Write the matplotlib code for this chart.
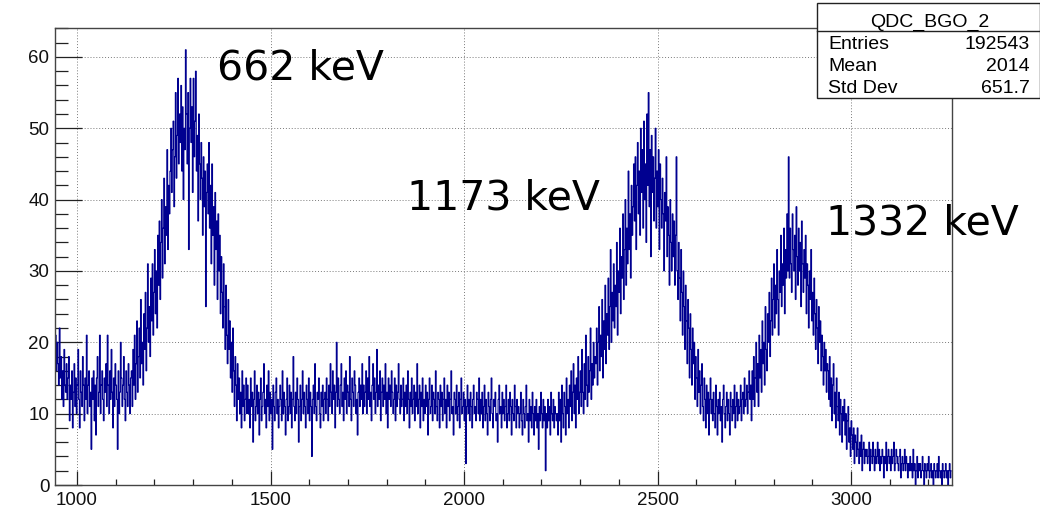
import numpy as np
import matplotlib
matplotlib.use("Agg")
import matplotlib.pyplot as plt
from matplotlib.patches import Rectangle
from matplotlib.lines import Line2D
from matplotlib.ticker import MultipleLocator

# QDC spectrum of the BGO detector, channels binned in pairs
BIN_START = 940
BIN_WIDTH = 2

# 940 - 1440: low-energy continuum and the 662 keV photopeak
counts_cs137 = [
    23, 19, 21, 16, 20, 17, 14, 22, 15, 18, 12, 16, 11, 19, 14, 13, 17, 12, 15, 18,
    9, 14, 12, 16, 8, 13, 17, 11, 15, 10, 14, 19, 12, 8, 16, 13, 11, 18, 14, 9,
    15, 12, 21, 10, 14, 16, 11, 13, 5, 15,
    12, 16, 9, 14, 7, 15, 18, 11, 13, 21, 10, 14, 16, 12, 9, 15, 13, 17, 11, 21,
    14, 10, 16, 12, 19, 13, 8, 15, 11, 17, 14, 12, 5, 16, 10, 13, 20, 15, 11, 14,
    18, 12, 9, 16, 13, 11, 17, 14, 10, 15,
    16, 11, 19, 14, 21, 12, 17, 23, 13, 18, 22, 15, 26, 17, 20, 14, 24, 19, 27, 16,
    22, 31, 20, 25, 18, 29, 23, 31, 21, 27, 33, 24, 30, 22, 35, 28, 37, 26, 34, 40,
    29, 36, 43, 31, 39, 35, 47, 33, 42, 38,
    44, 50, 41, 47, 51, 39, 46, 55, 43, 49, 57, 45, 52, 48, 56, 44, 53, 40, 50, 47,
    61, 52, 45, 55, 33, 50, 57, 48, 53, 41, 57, 46, 51, 58, 44, 49, 37, 52, 45, 40,
    48, 43, 35, 46, 39, 44, 25, 41, 45, 38,
    48, 36, 42, 31, 45, 35, 39, 28, 41, 33, 37, 26, 38, 30, 35, 24, 32, 27, 22, 31,
    25, 19, 28, 21, 17, 26, 19, 23, 15, 20, 13, 22, 16, 11, 18, 14, 9, 17, 12, 15,
    10, 13, 8, 16, 11, 14, 9, 12, 15, 10,
]

# 1440 - 2240: Compton plateau
counts_plateau = [
    14, 10, 12, 8, 15, 11, 13, 6, 12, 16, 9, 11, 14, 10, 13, 7, 12, 15, 9, 11,
    13, 17, 10, 12, 8, 14, 11, 16, 9, 13, 10, 12, 5, 14, 11, 9, 13, 15, 10, 12,
    8, 11, 14, 12, 9, 16, 10, 13, 11, 7,
    12, 15, 9, 11, 14, 10, 13, 8, 12, 18, 11, 9, 13, 10, 15, 12, 6, 11, 14, 9,
    12, 16, 10, 13, 11, 8, 14, 12, 10, 15, 9, 13, 11, 4, 12, 14, 10, 17, 11, 9,
    13, 12, 15, 10, 8, 13, 11, 14, 9, 12,
    13, 10, 15, 12, 9, 14, 11, 17, 13, 10, 16, 12, 14, 8, 13, 20, 11, 15, 12, 10,
    14, 17, 11, 13, 9, 15, 12, 16, 10, 14, 13, 11, 18, 12, 9, 15, 13, 11, 16, 14,
    10, 12, 7, 13, 15, 11, 14, 12, 17, 10,
    14, 11, 13, 16, 10, 15, 12, 18, 11, 13, 9, 14, 17, 12, 15, 10, 13, 19, 11, 14,
    12, 16, 9, 13, 15, 11, 14, 12, 17, 10, 13, 8, 15, 12, 14, 11, 16, 13, 10, 12,
    15, 9, 14, 11, 13, 17, 12, 10, 14, 11,
    12, 15, 9, 13, 11, 14, 10, 16, 12, 8, 13, 11, 15, 10, 12, 14, 9, 13, 11, 17,
    10, 12, 14, 8, 13, 11, 15, 9, 12, 10, 14, 11, 13, 7, 12, 15, 10, 11, 14, 9,
    13, 12, 10, 16, 11, 9, 13, 12, 8, 14,
    11, 13, 9, 12, 15, 10, 12, 8, 14, 11, 13, 9, 12, 16, 10, 11, 7, 13, 12, 10,
    14, 9, 11, 13, 8, 12, 15, 10, 11, 13, 9, 12, 3, 11, 14, 10, 12, 9, 13, 11,
    8, 12, 14, 10, 11, 9, 13, 12, 10, 15,
    9, 12, 10, 13, 8, 11, 14, 9, 12, 10, 7, 13, 11, 9, 12, 15, 10, 8, 12, 11,
    13, 9, 10, 6, 12, 14, 10, 11, 8, 13, 10, 12, 9, 11, 14, 8, 10, 12, 9, 13,
    11, 7, 12, 10, 9, 14, 11, 8, 12, 10,
    11, 8, 10, 13, 9, 7, 12, 10, 8, 11, 14, 9, 10, 6, 12, 9, 11, 8, 13, 10,
    7, 11, 9, 12, 8, 10, 5, 11, 9, 13, 10, 8, 12, 9, 11, 2, 10, 8, 12, 9,
    11, 7, 13, 10, 9, 12, 8, 11, 10, 9,
]

# 2240 - 3260: the 1173 keV and 1332 keV lines and the high-energy tail
counts_co60 = [
    10, 7, 13, 9, 12, 6, 14, 10, 8, 13, 11, 7, 15, 10, 12, 8, 14, 11, 16, 9,
    13, 17, 10, 14, 8, 15, 12, 18, 10, 13, 16, 11, 19, 13, 10, 17, 12, 21, 14, 11,
    18, 13, 16, 22, 12, 17, 14, 20, 15, 18,
    17, 22, 14, 20, 25, 16, 21, 18, 26, 15, 23, 19, 28, 17, 24, 21, 29, 19, 25, 33,
    20, 27, 23, 31, 22, 28, 25, 34, 21, 30, 27, 36, 24, 32, 29, 38, 26, 33, 40, 28,
    36, 31, 44, 33, 38, 29, 42, 35, 39, 45,
    37, 46, 33, 42, 48, 38, 44, 35, 50, 41, 47, 36, 51, 40, 45, 34, 52, 42, 55, 39,
    47, 32, 49, 41, 46, 37, 43, 50, 36, 44, 39, 47, 33, 45, 40, 36, 43, 38, 30, 41,
    37, 46, 32, 39, 35, 28, 40, 34, 30, 38,
    32, 37, 28, 35, 46, 30, 26, 34, 29, 23, 33, 27, 21, 30, 25, 19, 28, 23, 17, 26,
    22, 15, 24, 19, 14, 22, 17, 20, 12, 18, 15, 11, 19, 13, 16, 10, 14, 17, 11, 9,
    15, 12, 8, 14, 10, 13, 7, 12, 15, 10,
    12, 9, 13, 10, 8, 14, 11, 7, 12, 10, 13, 9, 11, 6, 12, 14, 10, 8, 11, 13,
    9, 12, 10, 7, 13, 11, 9, 12, 10, 14, 8, 11, 13, 9, 12, 10, 11, 14, 9, 12,
    13, 10, 15, 11, 12, 14, 10, 13, 16, 12,
    14, 9, 16, 12, 18, 11, 15, 20, 13, 17, 11, 21, 15, 19, 13, 23, 17, 20, 14, 25,
    19, 16, 24, 20, 27, 18, 23, 29, 21, 26, 31, 22, 28, 24, 33, 26, 21, 30, 27, 35,
    25, 31, 28, 36, 24, 33, 29, 38, 30, 46,
    29, 36, 31, 27, 38, 33, 30, 35, 26, 39, 32, 28, 36, 30, 34, 25, 37, 31, 27, 33,
    29, 35, 24, 31, 28, 22, 30, 26, 33, 23, 27, 21, 29, 24, 19, 26, 22, 17, 25, 20,
    23, 16, 21, 18, 14, 20, 16, 19, 13, 17,
    16, 12, 18, 11, 15, 9, 14, 17, 10, 13, 8, 15, 11, 9, 13, 7, 12, 10, 6, 11,
    9, 12, 7, 10, 5, 9, 11, 6, 8, 4, 9, 7, 5, 8, 3, 7, 6, 4, 8, 5,
    3, 6, 4, 7, 2, 5, 6, 3, 5, 4,
    5, 3, 4, 6, 2, 5, 4, 3, 6, 4, 2, 5, 3, 4, 6, 3, 5, 2, 4, 3,
    5, 4, 1, 4, 3, 6, 2, 4, 5, 3, 4, 2, 5, 3, 4, 6, 2, 3, 5, 4,
    3, 2, 4, 5, 1, 3, 4, 2, 3, 5,
    2, 4, 3, 1, 3, 2, 4, 2, 3, 1, 5, 2, 3, 0, 2, 4, 1, 3, 2, 3,
    1, 2, 4, 2, 0, 3, 2, 1, 3, 2, 4, 1, 2, 3, 1, 2, 0, 3, 2, 1,
    2, 3, 1, 4, 2, 1, 2, 0, 3, 2,
    1, 2, 3, 1, 2, 0, 2, 3, 1, 2,
]

hist_name = "QDC_BGO_2"
stats_labels = ["Entries", "Mean", "Std Dev"]
stats_values = ["192543", "2014", "651.7"]

peak_labels = ["662 keV", "1173 keV", "1332 keV"]
peak_label_x = [1362, 1853, 2935]
peak_label_y = [56.8, 38.6, 35.1]

counts = np.array(counts_cs137 + counts_plateau + counts_co60, dtype=float)
edges = BIN_START + BIN_WIDTH * np.arange(len(counts) + 1)

W, H = 1040, 512
fig = plt.figure(figsize=(W / 100, H / 100), dpi=100)
fig.patch.set_facecolor("white")

ax = fig.add_axes([55 / W, 1 - 485 / H, (952 - 55) / W, (485 - 28) / H])
ax.set_xlim(943, 3261)
ax.set_ylim(0, 64.05)

ax.set_axisbelow(True)
ax.grid(True, which="major", linestyle=(0, (1, 2)), color="#7a7a7a", linewidth=0.7)

ax.stairs(counts, edges, baseline=None, color="#000090", linewidth=0.8)

ax.xaxis.set_major_locator(MultipleLocator(500))
ax.xaxis.set_minor_locator(MultipleLocator(100))
ax.yaxis.set_major_locator(MultipleLocator(10))
ax.yaxis.set_minor_locator(MultipleLocator(2))

tick_family = ["Liberation Sans", "DejaVu Sans"]
ax.tick_params(which="both", direction="in", top=False, right=False,
               color="#222222", width=0.9)
ax.xaxis.set_tick_params(which="major", length=10, pad=5)
ax.xaxis.set_tick_params(which="minor", length=4.5)
ax.yaxis.set_tick_params(which="major", length=19.5, pad=4)
ax.yaxis.set_tick_params(which="minor", length=9.5)
for lbl in ax.get_xticklabels() + ax.get_yticklabels():
    lbl.set_fontfamily(tick_family)
    lbl.set_fontsize(13.5)
    lbl.set_color("#111111")

for sp in ax.spines.values():
    sp.set_color("#444444")
    sp.set_linewidth(1.0)

for text, xx, yy in zip(peak_labels, peak_label_x, peak_label_y):
    ax.text(xx, yy, text, fontsize=29.5, family="DejaVu Sans",
            color="black", ha="left", va="baseline", clip_on=False)

# statistics box
box_l, box_r = 817 / W, 1039.5 / W
box_t, box_b = 1 - 3 / H, 1 - 98 / H
sep_y = 1 - 31 / H
fig.add_artist(Rectangle((box_l, box_b), box_r - box_l, box_t - box_b,
                         transform=fig.transFigure, facecolor="white",
                         edgecolor="#222222", linewidth=1.0, zorder=5))
fig.add_artist(Line2D([box_l, box_r], [sep_y, sep_y], transform=fig.transFigure,
                      color="#222222", linewidth=1.0, zorder=6))
stat_family = ["Liberation Sans", "DejaVu Sans"]
fig.text(930 / W, 1 - 26.7 / H, hist_name, family=stat_family, fontsize=14,
         ha="center", va="baseline", zorder=7)
row_baselines = [49.3, 70.7, 93.3]
for name, val, yb in zip(stats_labels, stats_values, row_baselines):
    fig.text(828 / W, 1 - yb / H, name, family=stat_family, fontsize=14,
             ha="left", va="baseline", zorder=7)
    fig.text(1030 / W, 1 - yb / H, val, family=stat_family, fontsize=14,
             ha="right", va="baseline", zorder=7)

fig.savefig("out.png", dpi=100)
